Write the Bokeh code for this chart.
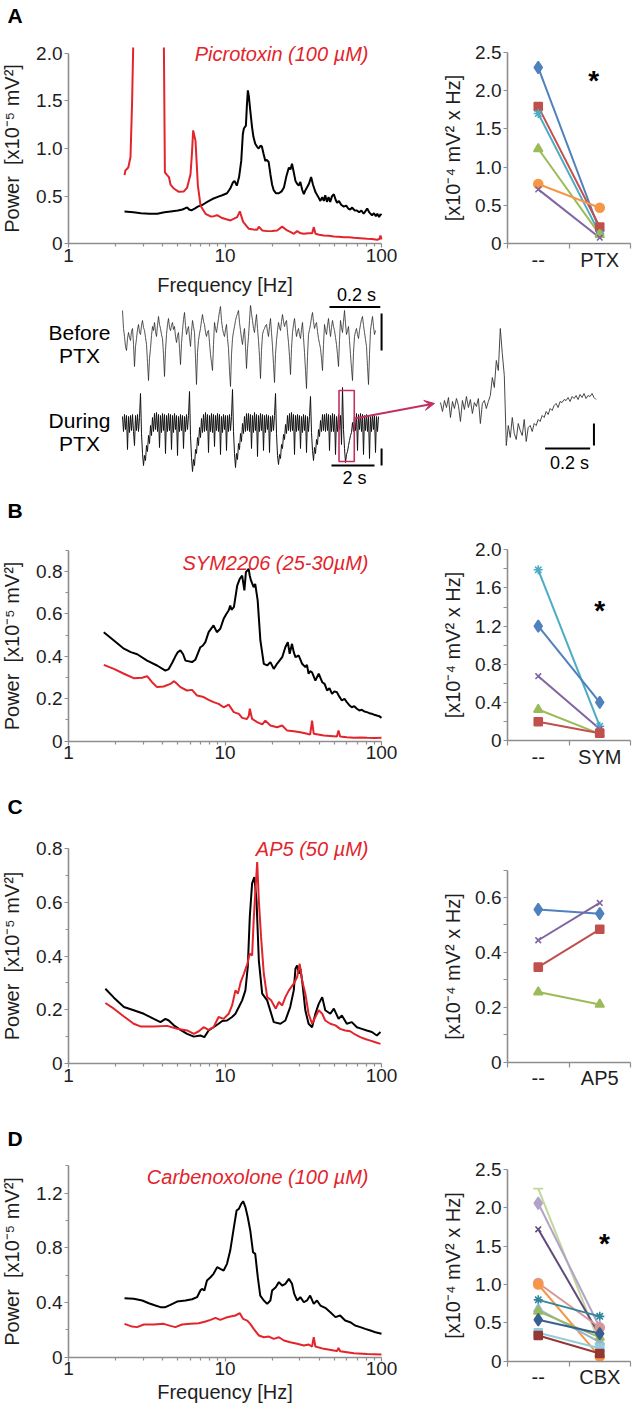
import math
import numpy as np
from bokeh.plotting import figure
from bokeh.layouts import column, row
from bokeh.models import Range1d, FixedTicker, Label, Arrow, VeeHead
from bokeh.embed import file_html
from bokeh.resources import INLINE

FONT = "Liberation Sans"
RED = "#e3242b"
GRAY = "#8e8e8e"
TXT = "#1e1e1e"
BOX = "#c2305f"
NAN = float("nan")

# ---------------- spectra (frequency in Hz, power in 1e-5 mV^2) ----------------
freq_a_black = [2.28, 2.6, 2.9, 3.3, 3.7, 4.1, 4.5, 5.0, 5.35, 5.6, 5.75, 5.9, 6.1, 6.4, 6.7, 7.2, 7.7, 8.3, 8.9, 9.6,
                10.3, 10.8, 11.2, 11.5, 11.9, 12.3, 12.7, 13.0, 13.2, 13.6, 13.8, 14.0, 14.2, 14.5, 14.9, 15.2, 15.6, 16.0,
                16.4, 16.9, 17.2, 17.6, 18.1, 18.5, 19.0, 19.5, 20.0, 20.5, 21.2, 22.1, 23.0, 23.8, 24.6, 25.6, 26.2, 26.8,
                27.5, 28.2, 28.9, 29.6, 30.3, 31.1, 31.9, 32.6, 33.4, 34.4, 35.5, 36.5, 37.9, 39.2, 40.7, 41.8, 42.8, 43.7,
                44.8, 45.9, 47.0, 48.3, 49.6, 51.0, 52.0, 53.5, 55.2, 57.4, 59.5, 61.3, 63.1, 65.0, 67.3, 69.6, 72.0, 74.4,
                76.9, 78.8, 81.0, 83.5, 87.0, 89.5, 92.0, 94.0, 96.5, 98.5, 100]
power_a_black = [0.34, 0.33, 0.32, 0.315, 0.315, 0.33, 0.34, 0.35, 0.36, 0.375, 0.38, 0.36, 0.35, 0.37, 0.39, 0.41, 0.44,
                 0.47, 0.49, 0.51, 0.53, 0.58, 0.64, 0.66, 0.61, 0.70, 0.87, 1.15, 1.21, 1.24, 1.45, 1.61, 1.55, 1.40, 1.22,
                 1.12, 1.05, 1.02, 1.00, 1.03, 1.02, 0.95, 0.87, 0.88, 0.86, 0.73, 0.62, 0.56, 0.53, 0.53, 0.55, 0.59, 0.70,
                 0.80, 0.78, 0.84, 0.75, 0.66, 0.63, 0.61, 0.65, 0.57, 0.52, 0.56, 0.59, 0.63, 0.70, 0.62, 0.54, 0.50, 0.45,
                 0.49, 0.45, 0.51, 0.44, 0.49, 0.44, 0.50, 0.52, 0.46, 0.43, 0.45, 0.41, 0.39, 0.40, 0.37, 0.36, 0.38, 0.35,
                 0.35, 0.33, 0.35, 0.315, 0.34, 0.37, 0.33, 0.30, 0.32, 0.29, 0.315, 0.28, 0.31, 0.30]
# the two low-frequency picrotoxin peaks run off the top of the scale (values unknown -> NaN)
freq_a_red = [2.28, 2.31, 2.41, 2.49, 2.55, 2.59, 3.3, 4.07, 4.13, 4.27, 4.38, 4.49, 4.71, 5.07, 5.46, 5.73,
              6.02, 6.15, 6.26, 6.48, 6.71, 6.98, 7.51, 8.08, 8.5, 8.91, 9.59, 10.84, 11.96, 12.44, 13.06, 14.21, 15.2,
              16.06, 16.45, 17.28, 18.6, 20.0, 21.54, 23.19, 24.96, 26.5, 27.54, 28.92, 30.5, 31.89, 34.0, 36.06, 36.95,
              37.87, 40.0, 42.81, 46.0, 49.6, 53.0, 57.4, 62.0, 66.6, 73.0, 81.0, 87.0, 93.8, 97.0, 98.5, 100]
power_a_red = [0.72, 0.77, 0.80, 0.91, 1.5, 2.06, NAN, 2.06, 0.75, 0.72, 0.70, 0.62, 0.58, 0.545, 0.55, 0.59,
               0.73, 0.95, 1.19, 1.08, 0.61, 0.40, 0.315, 0.287, 0.29, 0.30, 0.27, 0.245, 0.28, 0.34, 0.23, 0.157, 0.15,
               0.147, 0.18, 0.14, 0.133, 0.135, 0.14, 0.18, 0.14, 0.12, 0.105, 0.133, 0.11, 0.105, 0.11, 0.112, 0.175,
               0.105, 0.095, 0.087, 0.085, 0.077, 0.075, 0.07, 0.068, 0.063, 0.058, 0.052, 0.05, 0.042, 0.05, 0.087, 0.045]

freq_b_black = [1.68, 1.95, 2.26, 2.5, 2.75, 3.18, 3.68, 4.16, 4.37, 4.6, 4.82, 5.0, 5.19, 5.4, 5.59, 6.16, 6.46, 6.96,
                7.2, 7.49, 7.86, 8.45, 8.87, 9.33, 9.8, 10.2, 10.55, 10.8, 11.0, 11.4, 11.97, 12.44, 12.87, 13.3, 13.6,
                14.16, 14.4, 14.66, 15.24, 15.6, 16.17, 16.83, 17.7, 18.6, 19.5, 20.5, 21.5, 23.2, 24.3, 25.2, 25.9, 26.8,
                27.5, 28.2, 29.6, 31.1, 32.6, 33.4, 34.2, 35.0, 36.0, 37.8, 39.7, 41.8, 43.3, 44.9, 46.5, 48.3, 50.0, 51.9,
                53.8, 55.8, 58.0, 60.0, 62.3, 64.6, 67.0, 69.6, 72.2, 74.9, 77.7, 80.6, 83.6, 86.8, 90.0, 93.4, 96.7, 100]
power_b_black = [0.514, 0.475, 0.436, 0.42, 0.41, 0.38, 0.357, 0.333, 0.34, 0.37, 0.40, 0.42, 0.428, 0.41, 0.38, 0.373,
                 0.384, 0.443, 0.45, 0.467, 0.514, 0.546, 0.514, 0.53, 0.577, 0.60, 0.616, 0.64, 0.62, 0.632, 0.734, 0.766,
                 0.781, 0.711, 0.797, 0.813, 0.78, 0.758, 0.726, 0.742, 0.664, 0.475, 0.365, 0.357, 0.373, 0.341, 0.365,
                 0.396, 0.443, 0.467, 0.412, 0.459, 0.42, 0.396, 0.404, 0.365, 0.349, 0.36, 0.318, 0.33, 0.325, 0.286,
                 0.318, 0.278, 0.27, 0.239, 0.25, 0.223, 0.235, 0.231, 0.21, 0.192, 0.2, 0.184, 0.17, 0.16, 0.165, 0.153,
                 0.145, 0.148, 0.14, 0.137, 0.132, 0.129, 0.125, 0.121, 0.118, 0.11]
freq_b_red = [1.68, 1.95, 2.26, 2.61, 2.96, 3.18, 3.42, 3.68, 4.06, 4.48, 4.7, 4.82, 5.19, 5.71, 6.16, 6.63, 7.3, 7.86,
              8.45, 9.1, 9.8, 10.55, 11.37, 12.26, 12.87, 13.8, 14.2, 14.4, 14.9, 16.06, 17.3, 18.1, 19.5, 21.5, 23.2,
              24.96, 27.5, 30.3, 33.0, 35.0, 36.0, 36.9, 42.8, 47.0, 51.9, 53.1, 54.4, 60.0, 66.6, 74.0, 81.0, 90.0, 100]
power_b_red = [0.36, 0.341, 0.318, 0.297, 0.299, 0.307, 0.278, 0.255, 0.258, 0.27, 0.283, 0.278, 0.255, 0.239, 0.242,
               0.215, 0.208, 0.195, 0.184, 0.176, 0.16, 0.173, 0.137, 0.129, 0.11, 0.105, 0.12, 0.153, 0.105, 0.09, 0.079,
               0.097, 0.074, 0.066, 0.074, 0.05, 0.047, 0.042, 0.036, 0.031, 0.097, 0.035, 0.027, 0.025, 0.022, 0.05,
               0.022, 0.019, 0.016, 0.017, 0.016, 0.015, 0.016]

freq_c_black = [1.72, 1.95, 2.26, 2.61, 3.03, 3.51, 3.87, 4.16, 4.37, 4.71, 5.19, 5.73, 6.32, 6.96, 7.38, 7.86, 8.45, 9.1,
                9.6, 10.3, 11.1, 11.66, 12.26, 12.87, 13.5, 13.98, 14.4, 14.9, 15.4, 15.9, 16.45, 17.28, 18.6, 20.5, 22.6,
                24.3, 26.1, 27.5, 28.2, 28.9, 29.6, 30.3, 31.1, 32.6, 34.2, 36.0, 37.8, 39.7, 41.8, 43.7, 47.1, 49.6, 53.2,
                55.8, 60.0, 64.6, 69.6, 74.9, 80.6, 86.8, 93.4, 98.5]
power_c_black = [0.278, 0.245, 0.21, 0.198, 0.185, 0.166, 0.154, 0.166, 0.16, 0.142, 0.125, 0.11, 0.10, 0.104, 0.098,
                 0.123, 0.135, 0.148, 0.158, 0.16, 0.173, 0.185, 0.21, 0.235, 0.272, 0.359, 0.545, 0.67, 0.694, 0.607,
                 0.384, 0.26, 0.235, 0.154, 0.148, 0.16, 0.21, 0.272, 0.353, 0.365, 0.334, 0.353, 0.309, 0.198, 0.148,
                 0.135, 0.185, 0.222, 0.247, 0.198, 0.185, 0.204, 0.166, 0.179, 0.148, 0.154, 0.135, 0.129, 0.123, 0.117,
                 0.104, 0.117]
freq_c_red = [1.72, 1.95, 2.26, 2.61, 2.88, 3.51, 4.27, 4.94, 5.73, 6.32, 6.8, 7.3, 7.86, 8.45, 9.1, 9.8, 10.55, 11.1,
              11.66, 12.1, 12.6, 13.2, 13.9, 14.4, 14.9, 15.25, 15.6, 16.06, 16.45, 17.0, 17.7, 18.6, 19.7, 21.1, 22.1,
              23.2, 24.3, 25.6, 27.5, 28.9, 30.0, 31.1, 32.6, 34.2, 36.0, 37.8, 39.7, 41.8, 43.7, 47.1, 50.8, 54.4, 58.6,
              63.1, 67.8, 73.2, 78.7, 84.9, 91.4, 98.5]
power_c_red = [0.225, 0.204, 0.175, 0.148, 0.138, 0.138, 0.14, 0.129, 0.123, 0.11, 0.12, 0.135, 0.125, 0.135, 0.173,
               0.166, 0.185, 0.216, 0.272, 0.26, 0.303, 0.334, 0.371, 0.409, 0.402, 0.533, 0.632, 0.75, 0.607, 0.471,
               0.334, 0.247, 0.235, 0.204, 0.229, 0.216, 0.247, 0.272, 0.297, 0.322, 0.371, 0.309, 0.26, 0.185, 0.148,
               0.173, 0.198, 0.185, 0.16, 0.148, 0.142, 0.129, 0.123, 0.12, 0.108, 0.098, 0.091, 0.085, 0.079, 0.073]

freq_d_black = [2.28, 2.61, 2.96, 3.26, 3.59, 3.87, 4.16, 4.48, 4.94, 5.59, 6.16, 6.63, 6.96, 7.13, 7.38, 7.67, 8.08,
                8.45, 8.91, 9.34, 9.8, 10.3, 10.8, 11.4, 11.86, 12.26, 12.7, 13.06, 13.5, 13.98, 14.5, 15.1, 15.6, 16.2,
                16.8, 17.7, 18.6, 19.5, 20.0, 21.1, 22.1, 23.2, 24.3, 25.6, 26.8, 27.7, 28.9, 30.3, 31.9, 33.4, 35.0,
                36.9, 38.7, 40.7, 43.7, 47.1, 50.8, 54.4, 58.6, 63.1, 67.8, 73.2, 78.7, 84.9, 91.4, 100]
power_d_black = [0.432, 0.427, 0.415, 0.395, 0.378, 0.366, 0.366, 0.383, 0.407, 0.415, 0.424, 0.439, 0.488, 0.5, 0.488,
                 0.561, 0.585, 0.61, 0.659, 0.646, 0.634, 0.683, 0.78, 0.951, 1.073, 1.085, 1.122, 1.141, 1.098, 1.024,
                 0.927, 0.768, 0.756, 0.585, 0.451, 0.415, 0.39, 0.415, 0.488, 0.512, 0.549, 0.524, 0.537, 0.573, 0.537,
                 0.463, 0.415, 0.439, 0.402, 0.415, 0.451, 0.39, 0.415, 0.378, 0.361, 0.329, 0.293, 0.305, 0.268, 0.256,
                 0.232, 0.22, 0.207, 0.195, 0.183, 0.171]
freq_d_red = [2.28, 2.55, 2.74, 3.03, 3.51, 4.06, 4.48, 4.82, 5.32, 6.02, 6.8, 7.51, 8.08, 8.7, 9.33, 10.06, 10.84, 11.66,
              12.44, 13.06, 13.84, 14.5, 15.25, 16.45, 17.7, 19.1, 20.5, 22.1, 23.8, 26.1, 28.9, 31.9, 34.3, 36.0, 36.9,
              37.8, 42.8, 49.6, 52.0, 53.1, 54.5, 66.6, 81.0, 100]
power_d_red = [0.244, 0.224, 0.22, 0.239, 0.239, 0.244, 0.229, 0.22, 0.239, 0.244, 0.249, 0.261, 0.273, 0.288, 0.273,
               0.288, 0.298, 0.305, 0.322, 0.28, 0.268, 0.244, 0.207, 0.159, 0.146, 0.151, 0.134, 0.146, 0.122, 0.11,
               0.098, 0.085, 0.093, 0.078, 0.146, 0.078, 0.061, 0.049, 0.045, 0.068, 0.044, 0.029, 0.024, 0.02]

# ---------------- paired integrated power (1e-4 mV^2 x Hz) ----------------
ptx_before = [2.30, 1.79, 1.70, 1.24, 0.78, 0.71]
ptx_after = [0.17, 0.22, 0.13, 0.12, 0.47, 0.08]
sym_before = [1.79, 1.20, 0.675, 0.325, 0.196]
sym_after = [0.15, 0.40, 0.12, 0.07, 0.077]
ap5_before = [0.556, 0.444, 0.346, 0.255]
ap5_after = [0.541, 0.58, 0.484, 0.21]
cbx_before = [2.25, 2.06, 1.72, 1.02, 1.00, 0.80, 0.68, 0.65, 0.54, 0.37, 0.335]
cbx_after = [0.23, 0.44, 0.34, 0.44, 0.06, 0.585, 0.25, 0.31, 0.36, 0.17, 0.10]

# ---------------- example traces (amplitude in arbitrary units) ----------------
trace_before = [30, 12, 4, -6, -10, 2, 8, 3, 0, 9, 12, -4, -26, -6, 2, 11, 16, 8, 6, 15, 20, 13, 10, 3, -4, -22, -40,
                -18, -8, 5, 14, 10,
                18, 9, 4, 15, 24, 16, 12, 6, 2, -14, -36, -10, 6, 16, 22, 13, 10, 15, 18, 11, 14, 4, -2, 5, 8, -8, -24,
                -3, 10, 21, 28, 15,
                6, 11, 14, 3, -6, 9, 20, 14, 8, -18, -44, -12, 0, 7, 12, 20, 26, 19, 16, 8, 4, 9, 10, -2, -14, -22, -30,
                -4, 18, 12, 8, 15,
                22, 29, 34, 20, 12, 7, 4, 11, 16, 2, -8, -30, -46, -14, 2, 9, 14, 20, 24, 27, 30, 18, 10, 2, -4, 6, 12,
                -6, -28, -8, 4, 20,
                36, 27, 20, 12, 8, 18, 26, 12, 0, -16, -38, -10, 6, 10, 12, 15, 16, 9, 4, 14, 22, 8, -6, -24, -42, -14,
                0, 10, 18, 13, 10, 19,
                26, 19, 14, 18, 20, 8, -2, -16, -34, -8, 8, 16, 22, 12, 4, 9, 12, 6, 2, 11, 18, 3, -12, -30, -48, -16, 6,
                11, 16, 23, 28, 19,
                12, 16, 18, 9, 2, -3, -8, -18, -30, -4, 16, 10, 6, 15, 22, 12, 4, 13, 20, 14, 10, 3, -4, -14, -26, 0, 20,
                13, 8, 19, 30, 17,
                6, 10, 14, 0, -14, -28, -40, -12, 4, 9, 12, 6, 2, 10, 16, 21, 24, 15, 8, 1, -6, -26, -44, -14, 10, 18,
                24, 14, 6, 10]
trace_during = [7, -8, 9, -6, 8, -26, 7, -9, 8, -7, 9, -8, -22, 8, -7, 9, -8, 6,
                30, -10, -30, -42, -32, -37, -22, -28, -12, -20, -2, -12, 6, -8, 10, -6, 11, -8, 9, -24, 8, -9, 10, -7,
                9, -30, 8, -8, 10, -7, 9, -26, 8, -9, 10, -6, 8, -32, 7, -8, 9, -7, 8, -25, 7, -8, 9, -6, 8,
                32, -12, -34, -48, -36, -42, -26, -30, -14, -22, -4, -14, 5, -9, 9, -8, 11, -7, 9, -29, 8, -8, 10, -9,
                9, -23, 8, -7, 10, -8, 9, -31, 7, -9, 9, -6, 8, -27, 8, -8, 9, -7, 7,
                34, -8, -30, -44, -30, -36, -20, -26, -10, -18, 0, -10, 7, -8, 10, -7, 10, -8, 9, -25, 8, -9, 11, -7, 9,
                -33, 8, -8, 10, -7, 9, -27, 8, -9, 9, -6, 8, -29, 7, -8, 8, -7, 8,
                30, -10, -32, -41, -31, -35, -21, -25, -11, -16, -1, -10, 8, -7, 10, -8, 11, -7, 9, -31, 8, -8, 9, -7, 8,
                -25, 7, -9, 9, -7, 8, -29, 7, -8, 7,
                27, -9, -27, -37, -24, -30, -16, -21, -6, -13, 3, -8, 9, -7, 9, -8, 10, -7, 9, -27, 8, -8, 10, -8, 9,
                -31, 7, -8, 9, -6, 8, -21,
                36, -6, -25, -39, -31, -28, -22, -17, -12, -9, 1, -8, 8, -7, 10, -27, 9, -6, 10, -8, 9, -31, 8, -7, 9,
                -8, 8, -35, 7, -8, 9, -6, 8, -29, 7, -8, 7]
trace_zoom = [3, -6, 5, -2, 8, -12, 4, -3, 7, 0, -16, 5, -4, 9, -2, 6, -8, 3, -1, 7, -18, 2, 5, -3, 4,
              10, 28, 18, 45, 35, 77, 52, 30,
              -40, -20, -32, -12, -28, -34, -18, -25, -30, -14, -36, -22, -20, -26,
              -18, -20, -14, -16, -10, -12, -6, -9, -3, -5, 0, 2, -2, 4, 3, 6, 5, 8, 4, 9, 7, 10, 6, 11, 8, 12, 7,
              10, 9, 12, 8, 6]
dt_before = 1.0 / 254      # s per sample (1 s sweep)
dt_during = 2.0 / 43       # s per sample (~12 s sweep)
dt_zoom = 0.7 / 79         # s per sample (0.7 s window)

# page layout (px): rows and columns
W_LEFT, W_RIGHT = 400, 236
ROW_A, ROW_T, ROW_B, ROW_C, ROW_D = (0, 305), (305, 500), (500, 775), (775, 1095), (1095, 1409)


# ---------------- helpers ----------------
def yrange(zero_px, k, top_px, bottom_px):
    return Range1d((zero_px - bottom_px) / k, (zero_px - top_px) / k)


def logx(one_px, k, left_px, right_px):
    return Range1d(10 ** ((left_px - one_px) / k), 10 ** ((right_px - one_px) / k))


def linx(zero_px, k, left_px, right_px):
    return Range1d((left_px - zero_px) / k, (right_px - zero_px) / k)


def style_axis(ax):
    ax.axis_line_color = GRAY
    ax.axis_line_width = 1.6
    ax.major_tick_line_color = GRAY
    ax.minor_tick_line_color = GRAY
    ax.major_tick_line_width = 1.2
    ax.minor_tick_line_width = 1.2
    ax.major_tick_in = 0
    ax.minor_tick_in = 0
    ax.major_tick_out = 4
    ax.minor_tick_out = 3
    ax.major_label_standoff = 2
    ax.major_label_text_font = FONT
    ax.major_label_text_font_size = "19px"
    ax.major_label_text_color = TXT
    ax.axis_label_text_font = FONT
    ax.axis_label_text_font_size = "20px"
    ax.axis_label_text_font_style = "normal"
    ax.axis_label_text_color = TXT


def lab(v):
    return "0" if v == 0 else f"{v:.1f}"


def base_fig(w, h, xr, yr, log=False):
    p = figure(width=w, height=h, x_range=xr, y_range=yr, x_axis_type="log" if log else "linear",
               min_border=0, output_backend="svg", toolbar_location=None)
    p.grid.visible = False
    p.outline_line_color = None
    return p


def screen_label(p, sx, sy, text, color, size, style="normal", align="left"):
    p.add_layout(Label(x=sx, y=sy, x_units="screen", y_units="screen", text=text, text_align=align,
                       text_baseline="middle", text_color=color, text_font=FONT, text_font_size=size,
                       text_font_style=style))


def spectrum(rows, zero_px, k, yaxis_top, yticks, yminor, fb, pb, fr, pr, drug, letter, xlabel_standoff):
    top, bottom = rows
    p = base_fig(W_LEFT, bottom - top, logx(68, 156.5, 0, W_LEFT), yrange(zero_px, k, top, bottom), log=True)
    xa, ya = p.xaxis[0], p.yaxis[0]
    style_axis(xa)
    style_axis(ya)
    xa.fixed_location = 0
    ya.fixed_location = 1
    xa.bounds = (1, 100)
    ya.bounds = (0, yaxis_top)
    xa.ticker = FixedTicker(ticks=[1, 10, 100], minor_ticks=[2, 3, 4, 5, 6, 7, 8, 9, 20, 30, 40, 50, 60, 70, 80, 90])
    xa.major_label_overrides = {1: "1", 10: "10", 100: "100"}
    xa.major_label_standoff = 1
    ya.ticker = FixedTicker(ticks=yticks, minor_ticks=yminor)
    ya.major_label_overrides = {t: lab(t) for t in yticks}
    ya.axis_label = "Power\u00a0\u00a0[x10\u207b\u2075 mV\u00b2]"
    ya.axis_label_standoff = 10
    if xlabel_standoff is not None:
        xa.axis_label = "Frequency [Hz]"
        xa.axis_label_standoff = xlabel_standoff
    p.line(fb, pb, line_color="black", line_width=2)
    p.line(fr, pr, line_color=RED, line_width=2)
    screen_label(p, 368, bottom - drug[1], drug[0], RED, "20px", "italic", "right")
    screen_label(p, 7, bottom - letter[1], letter[0], "black", "21px", "bold", "left")
    return p


def pairs(rows, zero_px, k, yaxis_top, yticks, yminor, before, after, colors, markers, cond, star):
    top, bottom = rows
    p = base_fig(W_RIGHT, bottom - top, linx(507, 30.75, W_LEFT, W_LEFT + W_RIGHT), yrange(zero_px, k, top, bottom))
    xa, ya = p.xaxis[0], p.yaxis[0]
    style_axis(xa)
    style_axis(ya)
    xa.fixed_location = 0
    ya.fixed_location = 0
    xa.bounds = (0, 4)
    ya.bounds = (0, yaxis_top)
    cats = ["--", cond]
    cat_x = [2 * i + 1 for i in range(len(cats))]
    xa.ticker = FixedTicker(ticks=cat_x, minor_ticks=[0, 2, 4])
    xa.major_label_overrides = {x: c for x, c in zip(cat_x, cats)}
    xa.major_tick_out = 0
    xa.minor_tick_out = 5
    xa.major_label_standoff = 0
    xa.major_label_text_font_size = "20px"
    ya.ticker = FixedTicker(ticks=yticks, minor_ticks=yminor)
    ya.minor_tick_out = 4
    ya.major_label_overrides = {t: lab(t) for t in yticks}
    ya.axis_label = "[x10\u207b\u2074 mV\u00b2 x Hz]"
    ya.axis_label_standoff = 8
    sizes = {"diamond": 12, "square": 8, "triangle": 9, "x": 8, "asterisk": 9, "circle": 9, "dash": 10}
    for b, a, c in zip(before, after, colors):
        p.line(cat_x, [b, a], line_color=c, line_width=2)
    for b, a, c, m in zip(before, after, colors, markers):
        p.scatter(cat_x, [b, a], marker=m, size=sizes[m], fill_color=c, line_color=c, line_width=1.6)
    if star is not None:
        p.add_layout(Label(x=star[0], y=star[1], text="*", text_align="center", text_baseline="middle",
                           text_color="black", text_font=FONT, text_font_size="28px", text_font_style="bold"))
    return p


EX = {"blue": "#4f81bd", "red": "#c0504d", "green": "#9bbb59", "purple": "#8064a2", "aqua": "#4bacc6",
      "orange": "#f79646"}

# ---------------- panel A ----------------
pa = spectrum(ROW_A, 243.3, 95.3, 2.0, [0, 0.5, 1.0, 1.5, 2.0], [], freq_a_black, power_a_black,
              freq_a_red, power_a_red, ("Picrotoxin (100 \u00b5M)", 53.5), ("A", 15), 9)
# time-scale label of the "Before PTX" sweep sits in the gap above the traces
screen_label(pa, 356, ROW_A[1] - 294.5, "0.2 s", "black", "18px", "normal", "center")
qa = pairs(ROW_A, 243.3, 76.64, 2.5, [0, 0.5, 1.0, 1.5, 2.0, 2.5], [], ptx_before, ptx_after,
           [EX["blue"], EX["red"], EX["aqua"], EX["green"], EX["orange"], EX["purple"]],
           ["diamond", "square", "asterisk", "triangle", "circle", "x"], "PTX", (2.8, 2.13))

# ---------------- traces ----------------
T0, T1 = ROW_T
tr = figure(width=W_LEFT + W_RIGHT, height=T1 - T0, x_range=Range1d(0, W_LEFT + W_RIGHT), y_range=Range1d(T1, T0),
            x_axis_location=None, y_axis_location=None, min_border=0,
            output_backend="svg", toolbar_location=None)
tr.grid.visible = False
tr.outline_line_color = None


def txr(t0_px, px_per_s):
    return Range1d((0 - t0_px) / px_per_s, (W_LEFT + W_RIGHT - t0_px) / px_per_s)


def tyr(center_px):
    return Range1d(center_px - T1, center_px - T0)


tr.extra_x_ranges = {"tb": txr(122, 254), "td": txr(122, 21.5), "tz": txr(440, 225)}
tr.extra_y_ranges = {"vb": tyr(340), "vd": tyr(423), "vz": tyr(405)}

tb = [i * dt_before for i in range(len(trace_before))]
td = [i * dt_during for i in range(len(trace_during))]
tz = [i * dt_zoom for i in range(len(trace_zoom))]
tr.line(tb, trace_before, line_color="#2a2a2a", line_width=0.8, x_range_name="tb", y_range_name="vb")
tr.line(td, trace_during, line_color="#111111", line_width=1.0, x_range_name="td", y_range_name="vd")
tr.line(tz, trace_zoom, line_color="#333333", line_width=0.9, x_range_name="tz", y_range_name="vz")

# scale bars
tr.segment(x0=[0.815], y0=[33.5], x1=[1.015], y1=[33.5], line_color="black", line_width=2, x_range_name="tb", y_range_name="vb")
tr.segment(x0=[1.02], y0=[-10], x1=[1.02], y1=[27], line_color="black", line_width=2, x_range_name="tb", y_range_name="vb")
tr.segment(x0=[9.72], y0=[-42], x1=[11.72], y1=[-42], line_color="black", line_width=2, x_range_name="td", y_range_name="vd")
tr.segment(x0=[12.05], y0=[-42], x1=[12.05], y1=[-25], line_color="black", line_width=2, x_range_name="td", y_range_name="vd")
tr.segment(x0=[0.465], y0=[-43], x1=[0.665], y1=[-43], line_color="black", line_width=2, x_range_name="tz", y_range_name="vz")
tr.segment(x0=[0.682], y0=[-40], x1=[0.682], y1=[-18], line_color="black", line_width=2, x_range_name="tz", y_range_name="vz")
# zoom box + arrow
tr.quad(left=[10.07], right=[10.78], bottom=[-38], top=[33], fill_color=None, line_color=BOX, line_width=1.6,
        x_range_name="td", y_range_name="vd")
tr.add_layout(Arrow(x_start=354, y_start=418, x_end=434, y_end=403, line_color=BOX, line_width=2,
                    end=VeeHead(size=10, fill_color=BOX, line_color=BOX)))


def tlabel(x, y, text, size):
    tr.add_layout(Label(x=x, y=y, text=text, text_align="center", text_baseline="middle", text_color="black",
                        text_font=FONT, text_font_size=size))


tlabel(79, 332, "Before", "21px")
tlabel(79, 355, "PTX", "21px")
tlabel(79, 420, "During", "21px")
tlabel(79, 443, "PTX", "21px")
tlabel(354, 477, "2 s", "18px")
tlabel(569, 462, "0.2 s", "18px")

# ---------------- panel B ----------------
pb = spectrum(ROW_B, 740.7, 212.1, 0.9, [0, 0.2, 0.4, 0.6, 0.8], [0.1, 0.3, 0.5, 0.7, 0.9], freq_b_black,
              power_b_black, freq_b_red, power_b_red, ("SYM2206 (25-30\u00b5M)", 562), ("B", 510), None)
qb = pairs(ROW_B, 740.0, 95.35, 2.0, [0, 0.4, 0.8, 1.2, 1.6, 2.0], [0.2, 0.6, 1.0, 1.4, 1.8], sym_before,
           sym_after, [EX["aqua"], EX["blue"], EX["purple"], EX["green"], EX["red"]],
           ["asterisk", "diamond", "x", "triangle", "square"], "SYM", (3.0, 1.36))

# ---------------- panel C ----------------
pc = spectrum(ROW_C, 1063.0, 268.75, 0.8, [0, 0.2, 0.4, 0.6, 0.8], [0.1, 0.3, 0.5, 0.7], freq_c_black,
              power_c_black, freq_c_red, power_c_red, ("AP5 (50 \u00b5M)", 848.5), ("C", 805.5), None)
qc = pairs(ROW_C, 1061.5, 274.2, 0.7, [0, 0.2, 0.4, 0.6], [0.1, 0.3, 0.5, 0.7], ap5_before, ap5_after,
           [EX["blue"], EX["purple"], EX["red"], EX["green"]],
           ["diamond", "x", "square", "triangle"], "AP5", None)

# ---------------- panel D ----------------
pd_ = spectrum(ROW_D, 1356.7, 136.7, 1.4, [0, 0.4, 0.8, 1.2], [0.2, 0.6, 1.0, 1.4], freq_d_black,
               power_d_black, freq_d_red, power_d_red, ("Carbenoxolone (100 \u00b5M)", 1176), ("D", 1138.3), 2)
qd = pairs(ROW_D, 1360.7, 76.68, 2.5, [0, 0.5, 1.0, 1.5, 2.0, 2.5], [], cbx_before, cbx_after,
           ["#c3d69b", "#b3a2c7", "#604a7b", "#d99694", "#f79646", "#31859c", "#95b3d7", "#9bbb59", "#376092",
            "#93cddd", "#953735"],
           ["dash", "diamond", "x", "circle", "circle", "asterisk", "triangle", "triangle", "diamond", "square",
            "square"], "CBX", (3.15, 1.535))

layout = column(row(pa, qa), tr, row(pb, qb), row(pc, qc), row(pd_, qd))
open("out.html", "w").write(file_html(layout, INLINE, title="Power spectra"))
